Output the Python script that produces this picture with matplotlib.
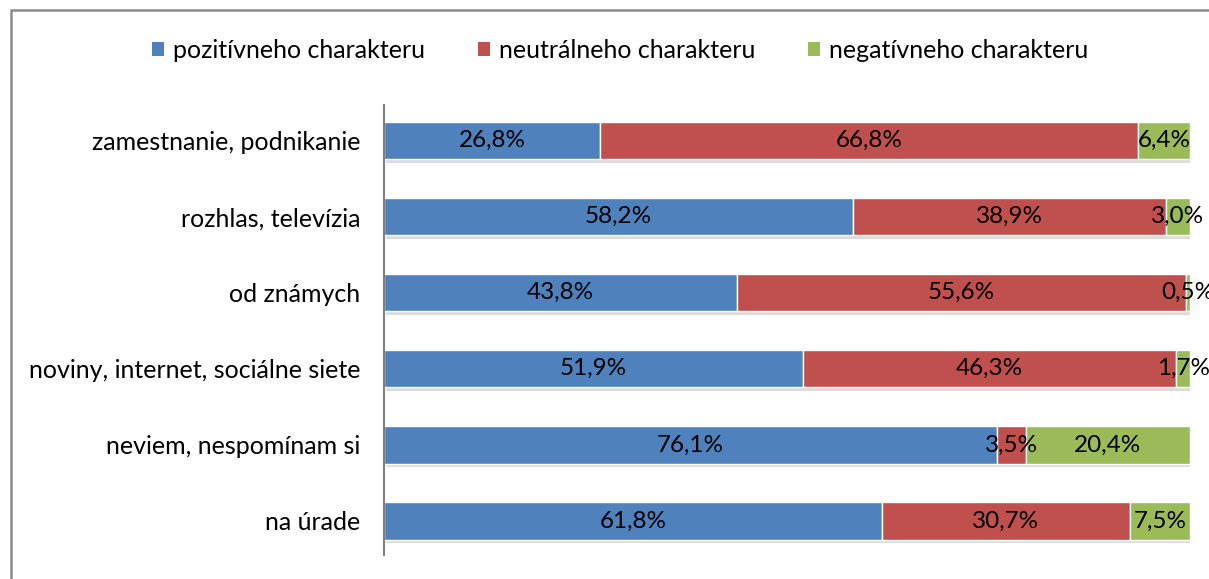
import matplotlib
matplotlib.use("Agg")
import matplotlib.pyplot as plt
import matplotlib.patheffects as pe
from matplotlib.patches import Rectangle
import numpy as np

categories = ["zamestnanie, podnikanie", "rozhlas, televízia", "od známych",
              "noviny, internet, sociálne siete", "neviem, nespomínam si", "na úrade"]
positive = [26.8, 58.2, 43.8, 51.9, 76.1, 61.8]
neutral = [66.8, 38.9, 55.6, 46.3, 3.5, 30.7]
negative = [6.4, 3.0, 0.5, 1.7, 20.4, 7.5]
series_names = ["pozitívneho charakteru", "neutrálneho charakteru", "negatívneho charakteru"]
colors = ["#4F81BD", "#C0504D", "#9BBB59"]

plt.rcParams['font.family'] = ['Lato', 'DejaVu Sans']

fig = plt.figure(figsize=(12.09, 5.79), dpi=100)
top_px, bot_px = 102.5, 559.0
ax = fig.add_axes([384/1209, 1-bot_px/579, (1190-384)/1209, (bot_px-top_px)/579])

data = np.array([positive, neutral, negative])
totals = data.sum(axis=0)
shares = data / totals * 100
y = np.arange(len(categories))
left = np.zeros(len(categories))
handles = []
for i in range(3):
    bars = ax.barh(y, shares[i], left=left, height=0.49, color=colors[i],
                   edgecolor="white", linewidth=1.0, label=series_names[i])
    for b in bars:
        b.set_path_effects([pe.SimplePatchShadow(offset=(1.5, -2.5), shadow_rgbFace="#BBBBBB", alpha=0.5), pe.Normal()])
    for j in range(len(categories)):
        ax.text(left[j] + shares[i][j] / 2, y[j], f"{data[i][j]:.1f}%".replace(".", ","),
                ha="center", va="center", fontsize=17.5, color="black")
    left += shares[i]
    handles.append(bars)

ax.set_xlim(0, 100)
ax.set_ylim(len(categories) - 0.5, -0.5)
ax.set_yticks(y)
ax.set_yticklabels(categories, fontsize=18)
ax.tick_params(axis="y", length=0, pad=17)
ax.set_xticks([])
for s in ["top", "right", "bottom"]:
    ax.spines[s].set_visible(False)
ax.spines["left"].set_color("#808080")
ax.spines["left"].set_linewidth(1.5)
ppx = (bot_px - top_px) / len(categories)
ax.spines["left"].set_bounds(-0.5 + (105 - top_px) / ppx, len(categories) - 0.5 - (bot_px - 555) / ppx)

leg = fig.legend(handles=handles, labels=series_names, loc="center", bbox_to_anchor=(620/1209, 1-50/579),
                 ncol=3, frameon=False, fontsize=18, handlelength=0.48, handleheight=0.48,
                 handletextpad=0.36, columnspacing=2.1)
for h in leg.legend_handles:
    h.set_path_effects([])
    h.set_edgecolor("none")

fig.patches.append(Rectangle((11/1209, -0.1), 1.2, 1 - 10/579 + 0.1, transform=fig.transFigure,
                             fill=False, edgecolor="#8C8C8C", linewidth=1.8, clip_on=False))

fig.savefig("out.png", dpi=100)
